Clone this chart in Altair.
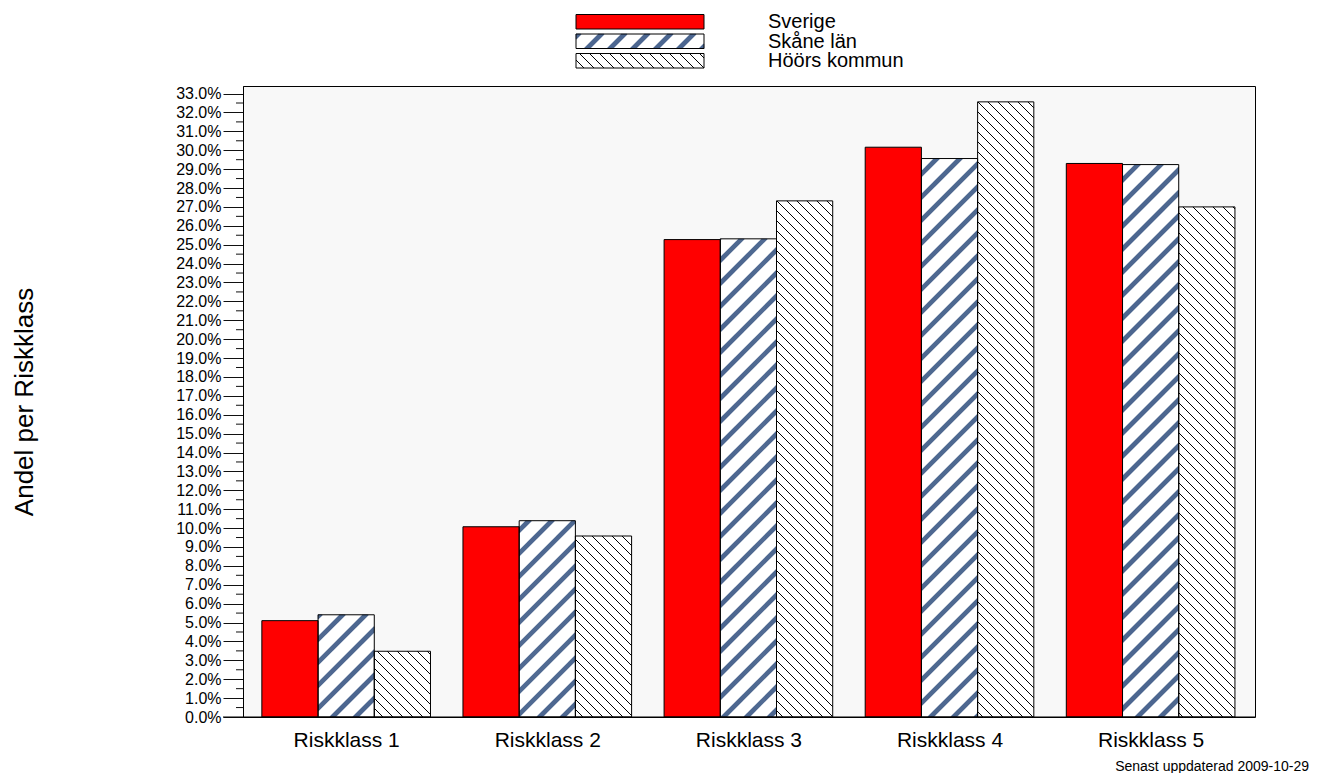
import altair as alt
import pandas as pd

# ---------------- data ----------------
categories = ["Riskklass 1", "Riskklass 2", "Riskklass 3", "Riskklass 4", "Riskklass 5"]
series = ["Sverige", "Skåne län", "Höörs kommun"]
sverige = [5.10, 10.07, 25.27, 30.16, 29.30]
skane = [5.41, 10.39, 25.31, 29.56, 29.24]
hoors = [3.48, 9.58, 27.32, 32.56, 27.00]
y_major = list(range(0, 34))
y_minor = [v + 0.5 for v in range(0, 33)]
footer_text = "Senast uppdaterad 2009-10-29"
y_title = "Andel per Riskklass"

# ---------------- layout ----------------
W, H = 1012, 631
X_DOMAIN = [-0.513, 4.519]
Y_DOMAIN = [0, 33.4]
BAR_W = 0.2795
SX = W / (X_DOMAIN[1] - X_DOMAIN[0])
SY = H / (Y_DOMAIN[1] - Y_DOMAIN[0])
FONT = "Liberation Sans"
COLORS = ["#FF0000", "#FFFFFF", "#FFFFFF"]
STRIPE = "#4d6790"

xs = alt.Scale(domain=X_DOMAIN, nice=False, zero=False)
ys = alt.Scale(domain=Y_DOMAIN, nice=False, zero=False)


def px_of(x):
    return (x - X_DOMAIN[0]) * SX


def x_of(px):
    return X_DOMAIN[0] + px / SX


def y_of(py):
    return py / SY


def hatch_up(px0, px1, pb, pt, spacing, offsets):
    """'/' lines: py - px = c (pixel space, y up), anchored to plot origin"""
    segs = []
    cmin, cmax = pb - px1, pt - px0
    m = int(cmin // spacing) - 1
    while m * spacing <= cmax + spacing:
        for off in offsets:
            c = m * spacing + off
            sx0 = px0
            sy0 = c + px0
            if sy0 < pb:
                sy0 = pb
                sx0 = pb - c
            ex1 = px1
            ey1 = c + px1
            if ey1 > pt:
                ey1 = pt
                ex1 = pt - c
            if sx0 < ex1 and sy0 <= pt and ey1 >= pb:
                segs.append((sx0, sy0, ex1, ey1))
        m += 1
    return segs


def hatch_down(px0, px1, pb, pt, spacing, offsets):
    """'\\' lines: py + px = c"""
    segs = []
    cmin, cmax = pb + px0, pt + px1
    m = int(cmin // spacing) - 1
    while m * spacing <= cmax + spacing:
        for off in offsets:
            c = m * spacing + off
            sx0 = px0
            sy0 = c - px0
            if sy0 > pt:
                sy0 = pt
                sx0 = c - pt
            ex1 = px1
            ey1 = c - px1
            if ey1 < pb:
                ey1 = pb
                ex1 = c - pb
            if sx0 < ex1 and sy0 >= pb and ey1 <= pt:
                segs.append((sx0, sy0, ex1, ey1))
        m += 1
    return segs


# bars table
rows = []
for si, (name, vals) in enumerate(zip(series, [sverige, skane, hoors])):
    for k, v in enumerate(vals):
        x0 = k + (si - 1.5) * BAR_W
        rows.append({"cat": categories[k], "series": name, "x0": x0,
                     "x1": x0 + BAR_W, "y0": 0.0, "v": v})
bars = pd.DataFrame(rows)

# legend table (page-pixel layout converted to plot data units)
LEG_X0, LEG_X1 = 576 - 243, 704 - 243
LEG_ROWS = [(14.5, 29), (34, 48.5), (53.5, 68)]
leg_rows = []
for name, (top, bot) in zip(series, LEG_ROWS):
    leg_rows.append({"series": name, "x0": x_of(LEG_X0), "x1": x_of(LEG_X1),
                     "y0": y_of(717 - bot), "v": y_of(717 - top),
                     "tx": x_of(768 - 243), "ty": y_of(717 - bot + 1)})
legend = pd.DataFrame(leg_rows)

# hatch segments
sk_segs, ho_segs = [], []
for df in (bars, legend):
    for r in df.itertuples():
        p0, p1 = px_of(r.x0), px_of(r.x1)
        pb, pt = r.y0 * SY, r.v * SY
        if r.series == series[1]:
            sk_segs += hatch_up(p0, p1, pb, pt, 23, [0, 1, 2, 3, 4, 5])
        elif r.series == series[2]:
            ho_segs += hatch_down(p0, p1, pb, pt, 10, [0])


def seg_df(segs):
    return pd.DataFrame([{"x": x_of(a), "y": y_of(b), "x2": x_of(c), "y2": y_of(d)}
                         for a, b, c, d in segs])


sk_df = seg_df(sk_segs)
ho_df = seg_df(ho_segs)

cat_js = "[" + ",".join("'" + c + "'" for c in categories) + "]"

x_axis = alt.Axis(values=list(range(len(categories))), labelExpr=cat_js + "[datum.value]",
                  ticks=False, tickSize=0, domain=False, grid=False, title=None,
                  labelPadding=12, labelFontSize=21, labelFont=FONT, labelColor="black",
                  labelFlush=False)
y_axis = alt.Axis(values=y_major, labelExpr="format(datum.value, '.1f') + '%'",
                  tickSize=20, tickColor="#111111", domainColor="black", grid=False,
                  title=None, labelPadding=2, labelFontSize=16, labelFont=FONT,
                  labelColor="black", labelOverlap=False, labelFlush=False)


def X(f):
    return alt.X(f, scale=xs, axis=x_axis)


def Y(f):
    return alt.Y(f, scale=ys, axis=y_axis)


color = alt.Color("series:N", scale=alt.Scale(domain=series, range=COLORS), legend=None)

bar_fill = alt.Chart(bars).mark_rect(strokeWidth=0).encode(
    x=X("x0:Q"), x2="x1:Q", y=Y("y0:Q"), y2="v:Q", color=color)

leg_fill = alt.Chart(legend).mark_rect(strokeWidth=0).encode(
    x=X("x0:Q"), x2="x1:Q", y=Y("y0:Q"), y2="v:Q", color=color)

sk_hatch = alt.Chart(sk_df).mark_rule(color=STRIPE, strokeWidth=1.2).encode(
    x=X("x:Q"), x2="x2:Q", y=Y("y:Q"), y2="y2:Q")

ho_hatch = alt.Chart(ho_df).mark_rule(color="black", strokeWidth=1).encode(
    x=X("x:Q"), x2="x2:Q", y=Y("y:Q"), y2="y2:Q")

bar_outline = alt.Chart(bars).mark_rect(fillOpacity=0, stroke="black", strokeWidth=1).encode(
    x=X("x0:Q"), x2="x1:Q", y=Y("y0:Q"), y2="v:Q")

leg_outline = alt.Chart(legend).mark_rect(fillOpacity=0, stroke="black", strokeWidth=1).encode(
    x=X("x0:Q"), x2="x1:Q", y=Y("y0:Q"), y2="v:Q")

leg_text = alt.Chart(legend).mark_text(align="left", baseline="alphabetic", fontSize=20,
                                       font=FONT, color="black").encode(
    x=X("tx:Q"), y=Y("ty:Q"), text="series:N")

minor = alt.Chart(pd.DataFrame({"m": y_minor})).mark_rule(color="#111111", strokeWidth=1).encode(
    y=Y("m:Q"), x=alt.value(-7), x2=alt.value(0))

base_line = alt.Chart(pd.DataFrame({"t": [0]})).mark_rule(color="black", strokeWidth=1).encode(
    x=alt.value(-20), x2=alt.value(W), y=alt.value(H))

ytitle = alt.Chart(pd.DataFrame({"t": [y_title]})).mark_text(
    angle=270, fontSize=26, font=FONT, color="black", align="center", baseline="middle").encode(
    x=alt.value(25 - 243), y=alt.value(402 - 86), text="t:N")

footer = alt.Chart(pd.DataFrame({"t": [footer_text]})).mark_text(
    fontSize=14, font=FONT, color="black", align="right", baseline="middle").encode(
    x=alt.value(1309 - 243), y=alt.value(767 - 86), text="t:N")

chart = alt.layer(
    bar_fill, leg_fill, sk_hatch, ho_hatch, bar_outline, leg_outline, leg_text,
    minor, base_line, ytitle, footer
).properties(
    width=W, height=H,
    padding={"left": 235, "top": 78, "right": 57, "bottom": 56},
    autosize=alt.AutoSizeParams(type="none"),
).configure(
    font=FONT, background="white"
).configure_view(
    fill="#F8F8F8", stroke="black", strokeWidth=1
)

chart.save("out.html", embed_options={"renderer": "svg", "actions": False})
